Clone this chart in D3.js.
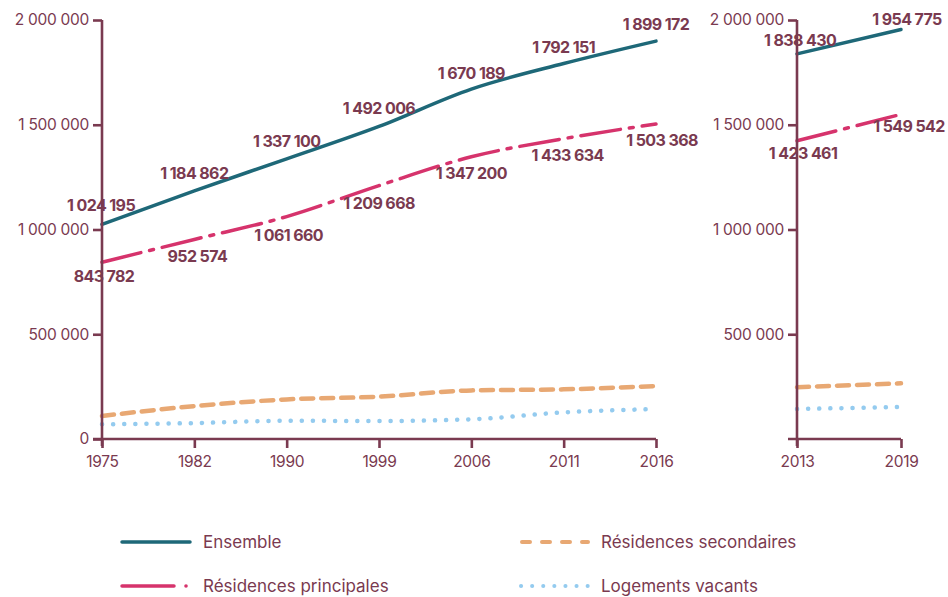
<!DOCTYPE html>
<html><head><meta charset="utf-8">
<script src="https://cdn.jsdelivr.net/npm/d3@7"></script>
<style>
body{margin:0;background:#fff;}
svg text{font-family:Inter,"Noto Sans",sans-serif;}
</style></head>
<body><svg id="c" width="948" height="597"></svg>
<script>
// ---- data ----
const yearsA = ["1975","1982","1990","1999","2006","2011","2016"];
const ensembleA = [1024195,1184862,1337100,1492006,1670189,1792151,1899172];
const principalesA = [843782,952574,1061660,1209668,1347200,1433634,1503368];
const secondairesA = [110000,157000,189000,202000,232000,237000,253000];
const vacantsA = [70000,76000,87000,86000,94000,127000,143000];

const yearsB = ["2013","2019"];
const ensembleB = [1838430,1954775];
const principalesB = [1423461,1549542];
const secondairesB = [247000,266000];
const vacantsB = [143000,153000];

const yTicksA = [0,500000,1000000,1500000,2000000];
const yTicksB = [500000,1000000,1500000,2000000];

const seriesNames = ["Ensemble","Résidences principales","Résidences secondaires","Logements vacants"];
// ---- styling ----
const axisColor = "#7a3a50";
const labelColor = "#7a3a50";
const styles = {
  "Ensemble":{color:"#1e6878",dash:null,width:3.5},
  "Résidences principales":{color:"#d6336c",dash:"40,9,4,9",width:3.5},
  "Résidences secondaires":{color:"#e8a873",dash:"12,8",width:4.5},
  "Logements vacants":{color:"#94cbef",dash:"0.1,11",width:4.5}
};
const fmt = v => d3.format(",")(v).replace(/,/g," ");

const svg = d3.select("#c");
const y = d3.scaleLinear().domain([0,2000000]).range([439,20]);

function panel(years, data, x0, x1, yTicks, labelCfg){
  const x = d3.scalePoint().domain(years).range([x0,x1]);
  const g = svg.append("g");
  const line = d3.line().x((d,i)=>x(years[i])).y(d=>y(d)).curve(d3.curveMonotoneX);
  const order = ["Logements vacants","Résidences secondaires","Résidences principales","Ensemble"];
  order.forEach(n=>{
    const s = styles[n];
    g.append("path").attr("d",line(data[n])).attr("fill","none")
      .attr("stroke",s.color).attr("stroke-width",s.width)
      .attr("stroke-linecap","round")
      .attr("stroke-dasharray",s.dash);
  });
  const ya = d3.axisLeft(y).tickValues(yTicks).tickFormat(fmt).tickSize(9).tickPadding(4).tickSizeOuter(0);
  const ag = g.append("g").attr("transform",`translate(${x0},0)`).call(ya);
  ag.select(".domain").attr("d",`M0,20V446`);
  const xa = d3.axisBottom(x).tickSize(9).tickPadding(8).tickSizeOuter(0);
  const bg = g.append("g").attr("transform",`translate(0,439)`).call(xa);
  bg.select(".domain").attr("d",`M${x0-9},0H${x1}`);
  [ag,bg].forEach(a=>{
    a.selectAll("path,line").attr("stroke",axisColor).attr("stroke-width",2.6);
    a.selectAll("text").attr("fill",axisColor).style("font-size","15.5px").style("font-family","Inter, sans-serif").style("letter-spacing","-0.3px");
  });
  const lab = (vals, dy, dx) => vals.forEach((v,i)=>{
    g.append("text").attr("x",x(years[i])+(dx?dx[i]:0)).attr("y",y(v)+dy[i])
      .attr("text-anchor","middle").attr("fill",labelColor)
      .style("font-size","16px").style("font-weight","700").style("letter-spacing","-0.6px")
      .text(fmt(v));
  });
  lab(data["Ensemble"], labelCfg.eDy, labelCfg.eDx);
  lab(data["Résidences principales"], labelCfg.pDy, labelCfg.pDx);
}

panel(yearsA,{"Ensemble":ensembleA,"Résidences principales":principalesA,"Résidences secondaires":secondairesA,"Logements vacants":vacantsA},
  102,656,yTicksA,
  {eDy:[-13,-12,-12,-12,-10,-11,-11], eDx:[-1,0,0,0,0,0,0],
   pDy:[20,23,24,23,22,22,22], pDx:[2,3,2,0,0,4,6]});
panel(yearsB,{"Ensemble":ensembleB,"Résidences principales":principalesB,"Résidences secondaires":secondairesB,"Logements vacants":vacantsB},
  797,901,yTicksB,
  {eDy:[-8,-4], eDx:[3,6], pDy:[18,18], pDx:[6,8]});

// legend
const legendPos = [[122,542],[122,586],[520,542],[520,586]];
seriesNames.forEach((n,i)=>{
  const [lx,ly] = legendPos[i];
  const s = styles[n];
  const lg = svg.append("g");
  if(n==="Résidences principales"){
    lg.append("line").attr("x1",lx).attr("x2",lx+52).attr("y1",ly).attr("y2",ly)
      .attr("stroke",s.color).attr("stroke-width",s.width).attr("stroke-linecap","round");
    lg.append("circle").attr("cx",lx+64).attr("cy",ly).attr("r",1.8).attr("fill",s.color);
  } else if(n==="Logements vacants"){
    lg.append("line").attr("x1",lx+1).attr("x2",lx+68).attr("y1",ly).attr("y2",ly)
      .attr("stroke",s.color).attr("stroke-width",4).attr("stroke-linecap","round").attr("stroke-dasharray","0.1,11");
  } else if(n==="Résidences secondaires"){
    lg.append("line").attr("x1",lx+2).attr("x2",lx+68).attr("y1",ly).attr("y2",ly)
      .attr("stroke",s.color).attr("stroke-width",4).attr("stroke-linecap","round").attr("stroke-dasharray","8,12");
  } else {
    lg.append("line").attr("x1",lx).attr("x2",lx+68).attr("y1",ly).attr("y2",ly)
      .attr("stroke",s.color).attr("stroke-width",s.width).attr("stroke-linecap","round");
  }
  lg.append("text").attr("x",lx+81).attr("y",ly+6).attr("fill",labelColor)
    .style("font-size","17px").text(n);
});
</script></body></html>
